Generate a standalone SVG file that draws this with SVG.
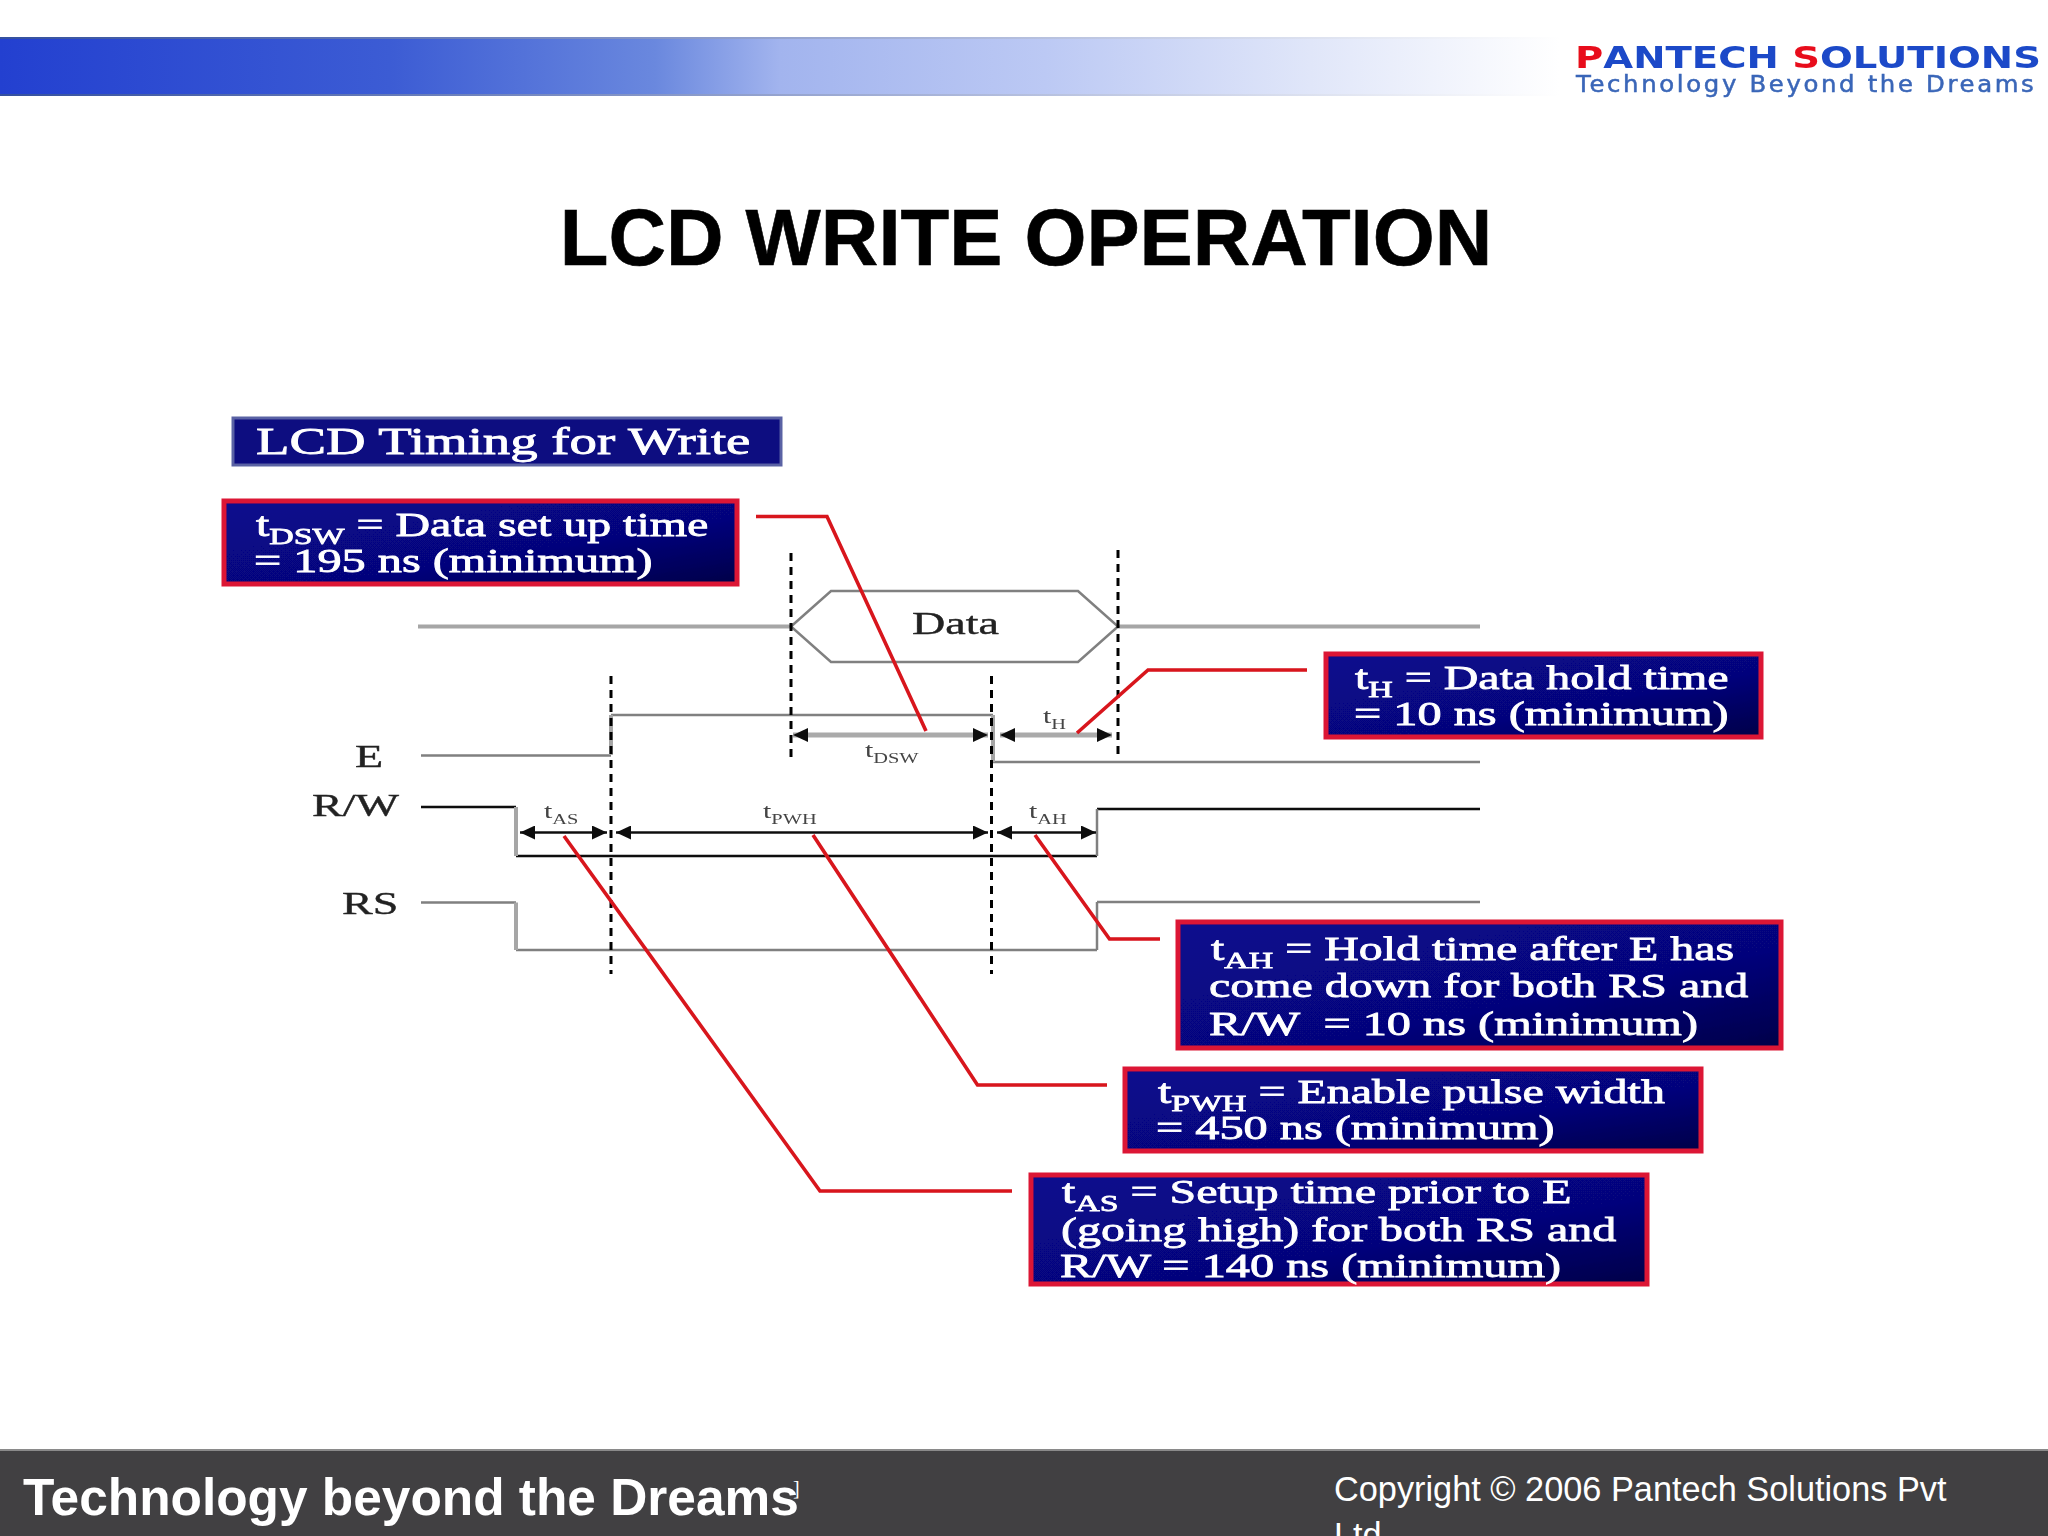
<svg xmlns="http://www.w3.org/2000/svg" width="2048" height="1536" viewBox="0 0 2048 1536">
<style>
.t{font-family:"Liberation Serif","Times New Roman",serif;font-size:34px;fill:#fff;stroke:#fff;stroke-width:.8px}
.s{font-size:24px}
.lb{font-family:"Liberation Serif","Times New Roman",serif;font-size:32px;fill:#222;stroke:#222;stroke-width:.4px}
.sm{font-family:"Liberation Serif","Times New Roman",serif;font-size:22px;fill:#444}
.sb{font-size:15px}
.box{fill:url(#navy);stroke:#dc1434;stroke-width:5}
.wg{fill:none;stroke:#808080;stroke-width:2.5}
.wk{fill:none;stroke:#111;stroke-width:2.5}
.vg{fill:none;stroke:#a6a6a6;stroke-width:4}
.d{fill:none;stroke:#000;stroke-width:3;stroke-dasharray:8 6}
.ld{fill:none;stroke:#d8141e;stroke-width:3.600}
.ag{stroke:#aaa;stroke-width:5;fill:none}
.ak{stroke:#111;stroke-width:2.500;fill:none}
</style>
<defs>
<linearGradient id="navy" x1="0" y1="0" x2="1" y2="1"><stop offset="0" stop-color="#08088e"/><stop offset=".6" stop-color="#06067c"/><stop offset="1" stop-color="#000048"/></linearGradient>
<linearGradient id="band" x1="0" x2="1" y1="0" y2="0"><stop offset="0" stop-color="#2340d0"/><stop offset=".25" stop-color="#3c5cd4"/><stop offset=".42" stop-color="#6a88de"/><stop offset=".5" stop-color="#a2b4ee"/><stop offset=".67" stop-color="#bcc9f4"/><stop offset=".84" stop-color="#e0e6f9"/><stop offset="1" stop-color="#fff"/></linearGradient>
<linearGradient id="edge" x1="0" x2="1" y1="0" y2="0"><stop offset="0" stop-color="#34509f"/><stop offset=".6" stop-color="#a8b4d8"/><stop offset="1" stop-color="#fff"/></linearGradient>
<marker id="h" markerUnits="userSpaceOnUse" markerWidth="16" markerHeight="14" refX="15" refY="7" orient="auto-start-reverse"><path d="M0 0L15 7L0 14Z" fill="#111"/></marker>
<filter id="b" x="-2%" y="-2%" width="104%" height="104%"><feGaussianBlur stdDeviation=".7"/></filter>
</defs>
<rect width="2048" height="1536" fill="#fff"/>
<g id="header">
<rect x="0" y="37" width="1560" height="59" fill="url(#band)"/>
<rect x="0" y="37" width="1560" height="2" fill="url(#edge)"/>
<rect x="0" y="94" width="1560" height="2" fill="url(#edge)"/>
<g id="logo" filter="url(#b)">
<text transform="translate(1575,68) scale(1.245,1)" font-family="'DejaVu Sans',sans-serif" font-weight="700" font-size="31" fill="#1a4ac8"><tspan fill="#e8101c">P</tspan>ANTECH <tspan fill="#e8101c">S</tspan>OLUTIONS</text>
<text transform="translate(1576,92) scale(1.06,1)" letter-spacing="2.500" font-family="'DejaVu Sans',sans-serif" font-size="23" fill="#3a66b8" stroke="#3a66b8" stroke-width=".5">Technology Beyond the Dreams</text>
</g>
</g>
<text id="title" x="1026" y="265" text-anchor="middle" font-family="'Liberation Sans',Arial,sans-serif" font-weight="700" font-size="79.700" fill="#000" stroke="#000" stroke-width=".6">LCD WRITE OPERATION</text>
<g id="diagram" filter="url(#b)">
<g id="waveforms">
<path class="vg" d="M418 626.500H791M1118 626.500H1480"/>
<path class="wg" d="M791 626.500L831 591H1078L1118 626.500L1078 662H831Z"/>
<path class="wg" d="M421 755.500H611M611 715H993M993 762H1480"/>
<path class="vg" d="M611 755V715M993 715V762"/>
<path class="wk" d="M421 807H516M516 856H1097M1097 809H1480"/>
<path class="vg" d="M516 807V856"/><path class="wg" d="M1097 856V809"/>
<path class="wg" d="M421 902.500H516M516 950H1097M1097 902H1480"/>
<path class="vg" d="M516 902.500V950"/><path class="wg" d="M1097 950V902"/>
</g>
<g id="guides">
<path class="d" d="M611 676V974"/><path class="d" d="M791 553V762"/><path class="d" d="M991.500 676V974"/><path class="d" d="M1118 550V759"/>
</g>
<g id="connectors">
<path class="ag" d="M793 735H988" marker-start="url(#h)" marker-end="url(#h)"/>
<path class="ag" d="M1000 735H1112" marker-start="url(#h)" marker-end="url(#h)"/>
<path class="ak" d="M520 832.500H607" marker-start="url(#h)" marker-end="url(#h)"/>
<path class="ak" d="M616 832.500H988" marker-start="url(#h)" marker-end="url(#h)"/>
<path class="ak" d="M997 832.500H1096" marker-start="url(#h)" marker-end="url(#h)"/>
<path class="ld" d="M756 516.500H827L926 731"/>
<path class="ld" d="M1307 670H1148L1077 733"/>
<path class="ld" d="M1160 939H1109.500L1035 835"/>
<path class="ld" d="M1107 1085H977.500L813 835"/>
<path class="ld" d="M1012 1191H820L564 836"/>
</g>
<g id="signal-labels">
<text class="lb" transform="translate(355,767) scale(1.44,1)">E</text>
<text class="lb" transform="translate(312,816) scale(1.44,1)">R/W</text>
<text class="lb" transform="translate(342,914) scale(1.44,1)">RS</text>
<text class="lb" transform="translate(912,634) scale(1.44,1)">Data</text>
<text class="sm" transform="translate(865,757) scale(1.36,1)">t<tspan class="sb" dy="6">DSW</tspan></text>
<text class="sm" transform="translate(1043,723) scale(1.36,1)">t<tspan class="sb" dy="6">H</tspan></text>
<text class="sm" transform="translate(544,818) scale(1.36,1)">t<tspan class="sb" dy="6">AS</tspan></text>
<text class="sm" transform="translate(763,818) scale(1.36,1)">t<tspan class="sb" dy="6">PWH</tspan></text>
<text class="sm" transform="translate(1029,818) scale(1.36,1)">t<tspan class="sb" dy="6">AH</tspan></text>
</g>
<g id="node-title">
<rect x="233" y="418" width="548" height="47" fill="#0a0a80" stroke="#5a62a4" stroke-width="3"/>
<text class="t" style="font-size:38px" transform="translate(256,454) scale(1.442,1)">LCD Timing for Write</text>
</g>
<g id="node-tdsw">
<rect class="box" x="224" y="501" width="513" height="83"/>
<text class="t" transform="translate(256,536) scale(1.41,1)">t<tspan class="s" dy="8">DSW</tspan><tspan dy="-8"> = Data set up time</tspan></text>
<text class="t" transform="translate(254,572) scale(1.42,1)">= 195 ns (minimum)</text>
</g>
<g id="node-th">
<rect class="box" x="1326" y="654" width="435" height="83"/>
<text class="t" transform="translate(1355,689) scale(1.41,1)">t<tspan class="s" dy="8">H</tspan><tspan dy="-8"> = Data hold time</tspan></text>
<text class="t" transform="translate(1354,725) scale(1.42,1)">= 10 ns (minimum)</text>
</g>
<g id="node-tah">
<rect class="box" x="1178" y="922" width="603" height="126"/>
<text class="t" transform="translate(1211,960) scale(1.41,1)">t<tspan class="s" dy="8">AH</tspan><tspan dy="-8"> = Hold time after E has</tspan></text>
<text class="t" transform="translate(1209,997) scale(1.41,1)">come down for both RS and</text>
<text class="t" xml:space="preserve" transform="translate(1209,1035) scale(1.42,1)">R/W  = 10 ns (minimum)</text>
</g>
<g id="node-tpwh">
<rect class="box" x="1125" y="1069" width="576" height="82"/>
<text class="t" transform="translate(1158,1103) scale(1.41,1)">t<tspan class="s" dy="8">PWH</tspan><tspan dy="-8"> = Enable pulse width</tspan></text>
<text class="t" transform="translate(1156,1139) scale(1.42,1)">= 450 ns (minimum)</text>
</g>
<g id="node-tas">
<rect class="box" x="1031" y="1175" width="616" height="109"/>
<text class="t" transform="translate(1062,1203) scale(1.41,1)">t<tspan class="s" dy="8">AS</tspan><tspan dy="-8"> = Setup time prior to E</tspan></text>
<text class="t" transform="translate(1061,1241) scale(1.41,1)">(going high) for both RS and</text>
<text class="t" transform="translate(1060,1277) scale(1.42,1)">R/W = 140 ns (minimum)</text>
</g>
</g>
<g id="footer">
<rect x="0" y="1449" width="2048" height="87" fill="#414042"/>
<rect x="0" y="1449" width="2048" height="2" fill="#8a8a8a"/>
<text x="23" y="1515" font-family="'Liberation Sans',Arial,sans-serif" font-weight="700" font-size="51.400" fill="#fff">Technology beyond the Dreams</text>
<text x="793" y="1495" font-family="'Liberation Serif',serif" font-size="20" fill="#fff">]</text>
<text x="1334" y="1501" font-family="'Liberation Sans',Arial,sans-serif" font-size="34.300" fill="#fff">Copyright © 2006 Pantech Solutions Pvt</text>
<text x="1334" y="1547" font-family="'Liberation Sans',Arial,sans-serif" font-size="34.300" fill="#fff">Ltd</text>
</g>
</svg>
